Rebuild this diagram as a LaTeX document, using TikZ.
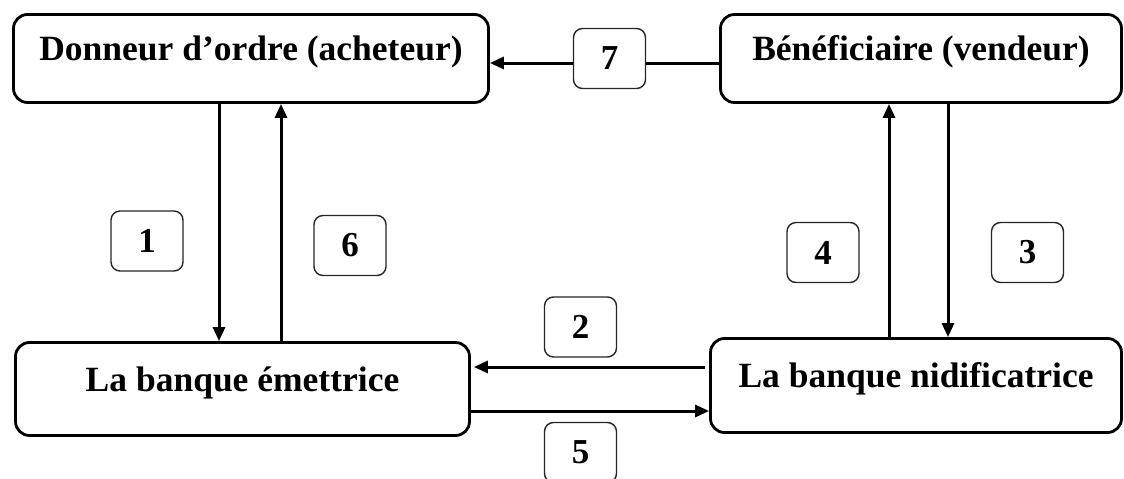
\documentclass[tikz,border=0pt]{standalone}
\usepackage{fontspec}
\setmainfont{Liberation Serif}
\usetikzlibrary{arrows.meta,calc}

\begin{document}
\begin{tikzpicture}[x=1pt,y=-1pt,
  party/.style={draw=black,line width=2.8pt,rounded corners=14pt,inner sep=0pt,
    font=\fontsize{35.5}{41}\selectfont\bfseries,text height=16pt,text depth=12pt},
  stepnum/.style={draw=black!85,line width=1.4pt,rounded corners=9pt,inner sep=0pt,
    minimum width=72pt,minimum height=60pt,fill=white,
    font=\fontsize{35}{41}\selectfont\bfseries},
  flow/.style={line width=3pt,-{Triangle[length=14pt,width=12pt]}}
]
\useasboundingbox (0,0) rectangle (1124,479);
\clip (0,0) rectangle (1124,479);

% the four parties
\node[party,minimum width=475pt,minimum height=88pt] (A) at (251,58.5)
  {Donneur d’ordre (acheteur)};
\node[party,minimum width=401pt,minimum height=88pt] (B) at (921,58.5)
  {Bénéficiaire (vendeur)};
\node[party,minimum width=454pt,minimum height=93pt] (C) at (242.5,389)
  {La banque émettrice};
\node[party,minimum width=411pt,minimum height=94pt] (D) at (916,385.5)
  {La banque nidificatrice};

% guide coordinates for the connector positions
\coordinate (x1) at (219,0);
\coordinate (x6) at (281,0);
\coordinate (x4) at (889,0);
\coordinate (x3) at (948,0);
\coordinate (y7) at (0,63);
\coordinate (y2) at (0,367);
\coordinate (y5) at (0,411);

% connectors
\draw[flow] (B.west |- y7) -- (A.east |- y7);
\draw[flow] (A.south -| x1) -- (C.north -| x1);
\draw[flow] (C.north -| x6) -- (A.south -| x6);
\draw[flow] (D.north -| x4) -- (B.south -| x4);
\draw[flow] (B.south -| x3) -- (D.north -| x3);
\draw[flow,shorten <=4pt,shorten >=3pt] (D.west |- y2) -- (C.east |- y2);
\draw[flow] (C.east |- y5) -- (D.west |- y5);

% step numbers
\node[stepnum] (n7) at (609.5,58.5) {7};
\node[stepnum] (n1) at (147,241) {1};
\node[stepnum] (n6) at (350,245.5) {6};
\node[stepnum] (n4) at (823,252.5) {4};
\node[stepnum] (n3) at (1027.5,252.5) {3};
\node[stepnum] (n2) at (580.5,327) {2};
\node[stepnum] (n5) at (580.5,452.5) {5};
\end{tikzpicture}
\end{document}
